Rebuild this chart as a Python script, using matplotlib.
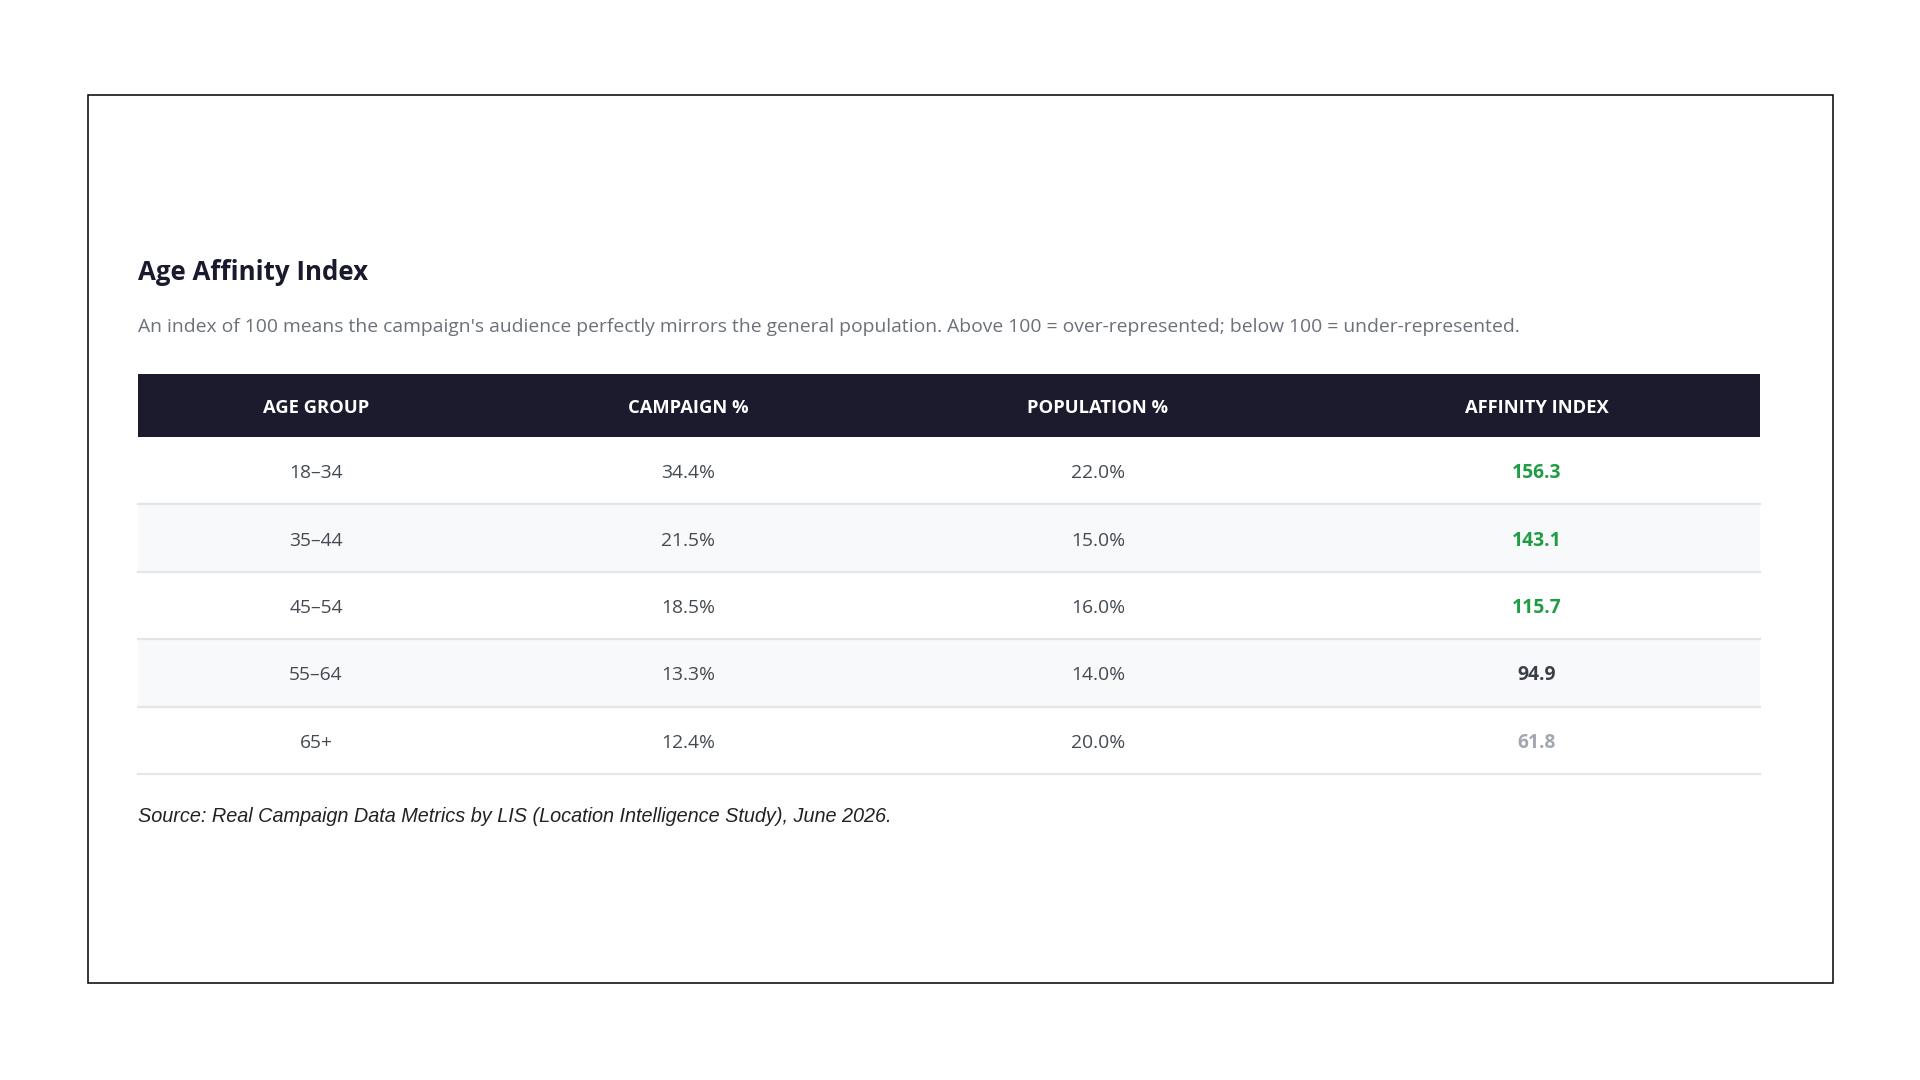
import matplotlib.pyplot as plt
from matplotlib.patches import Rectangle

# --- data ---
COLUMNS = ['AGE GROUP', 'CAMPAIGN %', 'POPULATION %', 'AFFINITY INDEX']
AGE_GROUPS = ['18–34', '35–44', '45–54', '55–64', '65+']
CAMPAIGN_PCT = [34.4, 21.5, 18.5, 13.3, 12.4]
POPULATION_PCT = [22.0, 15.0, 16.0, 14.0, 20.0]
AFFINITY = [156.3, 143.1, 115.7, 94.9, 61.8]

TITLE = 'Age Affinity Index'
SUBTITLE = ("An index of 100 means the campaign's audience perfectly mirrors the general "
            "population. Above 100 = over-represented; below 100 = under-represented.")
SOURCE = 'Source: Real Campaign Data Metrics by LIS (Location Intelligence Study), June 2026.'

# --- style ---
HEADER_BG = '#1c1b2e'
STRIPE = '#f8f9fa'
LINE = '#e3e5e8'
BODY = '#444a52'
GREEN = '#1f9d45'
FONT = 'Open Sans'


def affinity_style(v):
    if v >= 110:
        return GREEN, 'bold'
    if v >= 80:
        return '#3a3f47', 'bold'
    return '#a3a8b0', 'bold'


W, H = 1920, 1080
fig = plt.figure(figsize=(W / 100, H / 100), dpi=100)
fig.patch.set_facecolor('white')
ax = fig.add_axes([0, 0, 1, 1])
ax.set_xlim(0, W)
ax.set_ylim(H, 0)
ax.axis('off')

# outer frame
ax.add_patch(Rectangle((88, 95), 1745, 888, fill=False, edgecolor='black', lw=1.1))

left, right = 138, 1760
ax.text(left, 272, TITLE, fontsize=18.6, fontweight='bold', color='#1a1a2e',
        family=FONT, va='center', ha='left')
ax.text(left, 327, SUBTITLE, fontsize=13.85, color='#6b7079',
        family=FONT, va='center', ha='left')

# column boundaries (auto-layout widths)
col_edges = [138, 494, 882, 1314, 1760]
col_centers = [(a + b) / 2 for a, b in zip(col_edges[:-1], col_edges[1:])]

head_top, head_bot = 374, 437
ax.add_patch(Rectangle((left, head_top), right - left, head_bot - head_top,
                       facecolor=HEADER_BG, edgecolor='none'))
for cx, name in zip(col_centers, COLUMNS):
    ax.text(cx, (head_top + head_bot) / 2 + 2.5, name, fontsize=13.2, fontweight='bold',
            color='white', family=FONT, ha='center', va='center')

row_h = 67.4
for i, age in enumerate(AGE_GROUPS):
    top = head_bot + i * row_h
    if i % 2 == 1:
        ax.add_patch(Rectangle((left, top), right - left, row_h,
                               facecolor=STRIPE, edgecolor='none'))
    ax.plot([left, right], [top + row_h, top + row_h], color=LINE, lw=1.6)
    cy = top + row_h / 2 + 2.5
    cells = [age, f'{CAMPAIGN_PCT[i]:.1f}%', f'{POPULATION_PCT[i]:.1f}%']
    for cx, txt in zip(col_centers[:3], cells):
        ax.text(cx, cy, txt, fontsize=13.9, color=BODY, family=FONT,
                ha='center', va='center')
    c, w = affinity_style(AFFINITY[i])
    ax.text(col_centers[3], cy, f'{AFFINITY[i]:.1f}', fontsize=13.9, color=c,
            fontweight=w, family=FONT, ha='center', va='center')

ax.text(left, 817, SOURCE, fontsize=14.3, style='italic', color='#222222',
        family='Liberation Sans', ha='left', va='center')

fig.savefig('out.png', dpi=100, facecolor='white')
